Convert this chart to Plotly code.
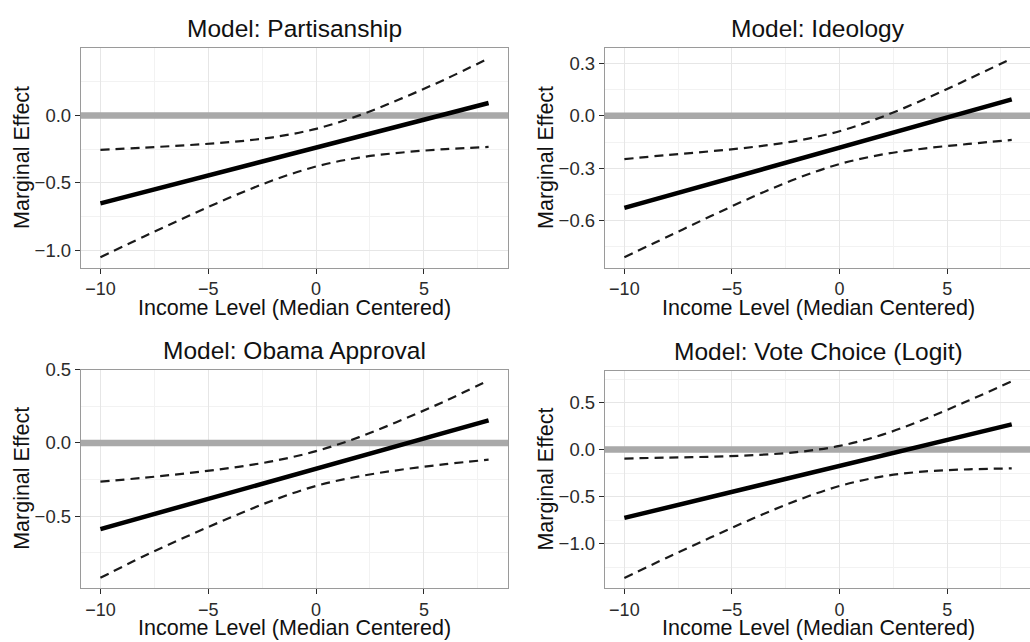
import plotly.graph_objects as go

# ---------------- data ----------------
income = [-10, -8, -6, -4, -2, 0, 2, 4, 6, 8]

titles = ["Model: Partisanship", "Model: Ideology",
          "Model: Obama Approval", "Model: Vote Choice (Logit)"]

part_est = [-0.653, -0.570, -0.487, -0.404, -0.322, -0.239, -0.156, -0.073, 0.010, 0.093]
part_hi = [-0.256, -0.239, -0.221, -0.198, -0.162, -0.099, 0.001, 0.129, 0.270, 0.425]
part_lo = [-1.053, -0.901, -0.753, -0.610, -0.482, -0.379, -0.313, -0.275, -0.250, -0.234]

ideo_est = [-0.527, -0.458, -0.389, -0.320, -0.251, -0.182, -0.113, -0.044, 0.025, 0.094]
ideo_hi = [-0.248, -0.224, -0.203, -0.178, -0.143, -0.088, -0.005, 0.098, 0.211, 0.328]
ideo_lo = [-0.809, -0.692, -0.575, -0.462, -0.359, -0.276, -0.221, -0.186, -0.161, -0.138]

obama_est = [-0.588, -0.506, -0.423, -0.341, -0.258, -0.176, -0.094, -0.011, 0.071, 0.154]
obama_hi = [-0.264, -0.238, -0.207, -0.171, -0.124, -0.056, 0.040, 0.159, 0.287, 0.428]
obama_lo = [-0.921, -0.774, -0.639, -0.511, -0.392, -0.293, -0.228, -0.181, -0.145, -0.114]

vote_est = [-0.727, -0.616, -0.506, -0.395, -0.285, -0.174, -0.063, 0.048, 0.158, 0.269]
vote_hi = [-0.095, -0.085, -0.076, -0.059, -0.027, 0.039, 0.159, 0.328, 0.522, 0.726]
vote_lo = [-1.365, -1.147, -0.936, -0.731, -0.543, -0.387, -0.285, -0.232, -0.210, -0.200]

x_ticks = [-10, -5, 0, 5]
zero_ref = 0.0

series = [
    (part_est, part_hi, part_lo),
    (ideo_est, ideo_hi, ideo_lo),
    (obama_est, obama_hi, obama_lo),
    (vote_est, vote_hi, vote_lo),
]

# ---------------- layout settings ----------------
W, H = 1030, 642
FONT = "Liberation Sans"

# panel boxes in pixels: (left, right, top, bottom)
boxes = [
    (81, 508, 38, 261),
    (605, 1030, 38, 261),
    (81, 508, 365, 587),
    (605, 1030, 366.5, 587),
]
x_ranges = [[-10.9, 8.9], [-10.9, 8.85], [-10.9, 8.9], [-10.9, 8.85]]
y_ranges = [[-1.13, 0.499], [-0.868, 0.386], [-0.99, 0.5], [-1.472, 0.834]]
y_dticks = [0.5, 0.3, 0.5, 0.5]
closed_right = [True, False, True, False]

fig = go.Figure()

GRID_MAJOR = "#e6e6e6"
GRID_MINOR = "#f2f2f2"
BORDER = "#9a9a9a"
TICKCOL = "#2b2b2b"

for i, (est, hi, lo) in enumerate(series):
    n = i + 1
    xa = "x" if n == 1 else f"x{n}"
    ya = "y" if n == 1 else f"y{n}"
    l, r, t, b = boxes[i]
    xdom = [l / W, r / W]
    ydom = [1 - b / H, 1 - t / H]

    for vals, dash, width, color, shape in [
        (hi, "dash", 2.2, "#1a1a1a", "spline"),
        (lo, "dash", 2.2, "#1a1a1a", "spline"),
        (est, "solid", 4.5, "#000000", "linear"),
    ]:
        fig.add_trace(go.Scatter(
            x=income, y=vals, mode="lines", xaxis=xa, yaxis=ya,
            line=dict(color=color, width=width,
                      dash="9px,6px" if dash == "dash" else "solid",
                      shape=shape),
            showlegend=False, hoverinfo="skip"))

    axkey_x = "xaxis" if n == 1 else f"xaxis{n}"
    axkey_y = "yaxis" if n == 1 else f"yaxis{n}"
    fig.update_layout(**{
        axkey_x: dict(
            domain=xdom, anchor=ya, range=x_ranges[i],
            tickmode="array", tickvals=x_ticks,
            ticktext=[("\u2212" + str(abs(v))) if v < 0 else str(v) for v in x_ticks],
            ticks="outside", ticklen=5, tickwidth=1, tickcolor=TICKCOL,
            tickfont=dict(family=FONT, size=18, color=TICKCOL),
            showgrid=True, gridcolor=GRID_MAJOR, gridwidth=1.1,
            minor=dict(tickmode="linear", tick0=-10, dtick=2.5, showgrid=True,
                       gridcolor=GRID_MINOR, gridwidth=0.8, ticks=""),
            showline=True, linecolor=BORDER, linewidth=1.3, mirror=True,
            zeroline=False, fixedrange=True),
        axkey_y: dict(
            domain=ydom, anchor=xa, range=y_ranges[i],
            tickmode="linear", tick0=0, dtick=y_dticks[i], tickformat=".1f",
            ticks="outside", ticklen=5, tickwidth=1, tickcolor=TICKCOL,
            tickfont=dict(family=FONT, size=18.5, color=TICKCOL),
            showgrid=True, gridcolor=GRID_MAJOR, gridwidth=1.1,
            minor=dict(tickmode="linear", tick0=0, dtick=y_dticks[i] / 2,
                       showgrid=True, gridcolor=GRID_MINOR, gridwidth=0.8, ticks=""),
            showline=True, linecolor=BORDER, linewidth=1.3, mirror=closed_right[i],
            zeroline=False, fixedrange=True),
    })

    # zero reference line across the panel
    fig.add_shape(type="line", xref=xa, yref=ya,
                  x0=x_ranges[i][0], x1=x_ranges[i][1], y0=zero_ref, y1=zero_ref,
                  layer="between",
                  line=dict(color="#a9a9a9", width=6.5))

    right_px = r if closed_right[i] else 1031
    # panel title
    fig.add_annotation(text=titles[i], xref="paper", yref="paper",
                       x=(l + right_px) / 2 / W,
                       y=1 - (t - 20) / H, xanchor="center", yanchor="middle",
                       showarrow=False,
                       font=dict(family=FONT, size=24.5, color="#111111"))
    # x axis title
    fig.add_annotation(text="Income Level (Median Centered)", xref="paper", yref="paper",
                       x=(l + right_px) / 2 / W,
                       y=1 - (b + 41) / H, xanchor="center", yanchor="middle",
                       showarrow=False,
                       font=dict(family=FONT, size=21.5, color="#111111"))
    # y axis title
    fig.add_annotation(text="Marginal Effect", xref="paper", yref="paper",
                       x=(l - 59) / W, y=1 - (t + b) / 2 / H,
                       xanchor="center", yanchor="middle", textangle=-90,
                       showarrow=False,
                       font=dict(family=FONT, size=21.5, color="#111111"))

fig.update_layout(
    width=W, height=H,
    margin=dict(l=0, r=0, t=0, b=0),
    paper_bgcolor="white", plot_bgcolor="white",
    showlegend=False,
    font=dict(family=FONT),
)

post = ("document.documentElement.style.margin='0';"
        "document.body.style.margin='0';document.body.style.padding='0';"
        "var d=document.getElementById('{plot_id}');"
        "d.style.position='fixed';d.style.top='0px';d.style.left='0px';")

fig.write_html("out.html", config={"displayModeBar": False}, post_script=post)
